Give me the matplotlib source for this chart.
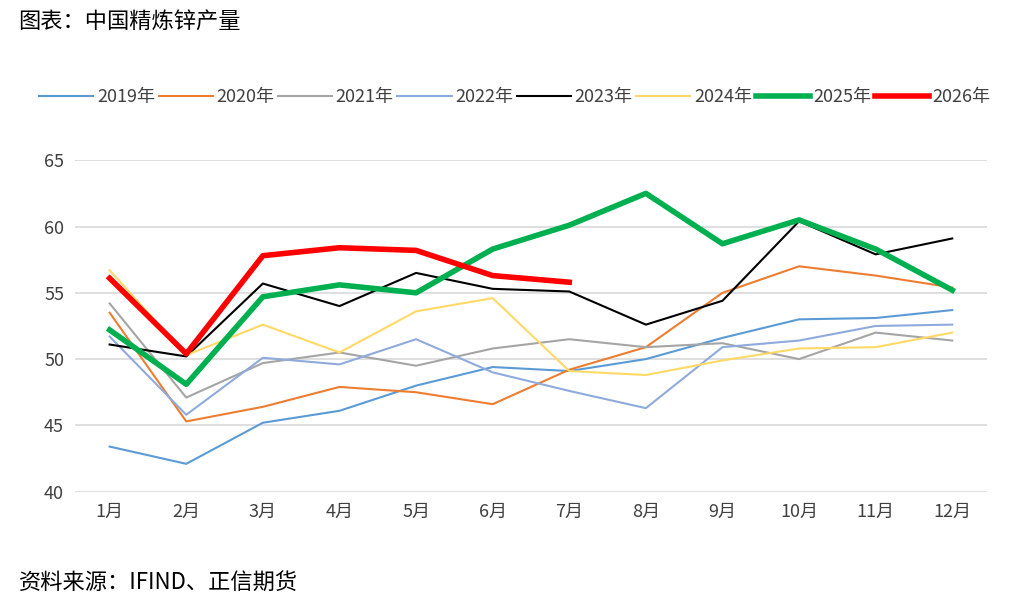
import matplotlib
matplotlib.use('Agg')
import matplotlib.pyplot as plt

plt.rcParams['font.family'] = ['Noto Sans CJK SC', 'DejaVu Sans']

months = [f"{i}月" for i in range(1, 13)]
y2019 = [43.4, 42.1, 45.2, 46.1, 48.0, 49.4, 49.1, 50.0, 51.6, 53.0, 53.1, 53.7]
y2020 = [53.5, 45.3, 46.4, 47.9, 47.5, 46.6, 49.2, 50.9, 55.0, 57.0, 56.3, 55.4]
y2021 = [54.2, 47.1, 49.7, 50.5, 49.5, 50.8, 51.5, 50.9, 51.2, 50.0, 52.0, 51.4]
y2022 = [51.7, 45.8, 50.1, 49.6, 51.5, 49.0, 47.6, 46.3, 50.9, 51.4, 52.5, 52.6]
y2023 = [51.1, 50.2, 55.7, 54.0, 56.5, 55.3, 55.1, 52.6, 54.4, 60.4, 57.9, 59.1]
y2024 = [56.7, 50.3, 52.6, 50.5, 53.6, 54.6, 49.1, 48.8, 49.9, 50.8, 50.9, 52.0]
y2025 = [52.2, 48.1, 54.7, 55.6, 55.0, 58.3, 60.1, 62.5, 58.7, 60.5, 58.3, 55.2]
y2026 = [56.1, 50.4, 57.8, 58.4, 58.2, 56.3, 55.8]

series = [
    ("2019年", y2019, '#5B9BD5', 1.5),
    ("2020年", y2020, '#ED7D31', 1.5),
    ("2021年", y2021, '#A5A5A5', 1.5),
    ("2022年", y2022, '#8FAADC', 1.5),
    ("2023年", y2023, '#000000', 1.5),
    ("2024年", y2024, '#FFD966', 1.5),
    ("2025年", y2025, '#00B050', 4.0),
    ("2026年", y2026, '#FF0000', 4.0),
]

fig = plt.figure(figsize=(10.3, 6.07), dpi=100)
ax = fig.add_axes([0.073, 0.19, 0.885, 0.546])

x = list(range(12))
for name, vals, color, lw in series:
    ax.plot(x[:len(vals)], vals, color=color, lw=lw, label=name)

ax.set_ylim(40, 65)
ax.set_yticks(range(40, 66, 5))
ax.set_xlim(-0.45, 11.45)
ax.set_xticks(x)
ax.set_xticklabels(months)
ax.grid(axis='y', color='#D9D9D9', lw=1.2)
ax.set_axisbelow(True)
for s in ax.spines.values():
    s.set_visible(False)
ax.tick_params(length=0, labelsize=13, colors='#404040', pad=8)

fig.legend(loc='center', bbox_to_anchor=(0.5, 0.84), ncol=8, frameon=False,
           fontsize=13, handlelength=3.0, handletextpad=0.2, columnspacing=0.2,
           labelcolor='#404040')

fig.text(0.018, 0.965, "图表：中国精炼锌产量", fontsize=16, va='center')
fig.text(0.018, 0.04, "资料来源：IFIND、正信期货", fontsize=16, va='center')

fig.savefig("out.png", dpi=100)
